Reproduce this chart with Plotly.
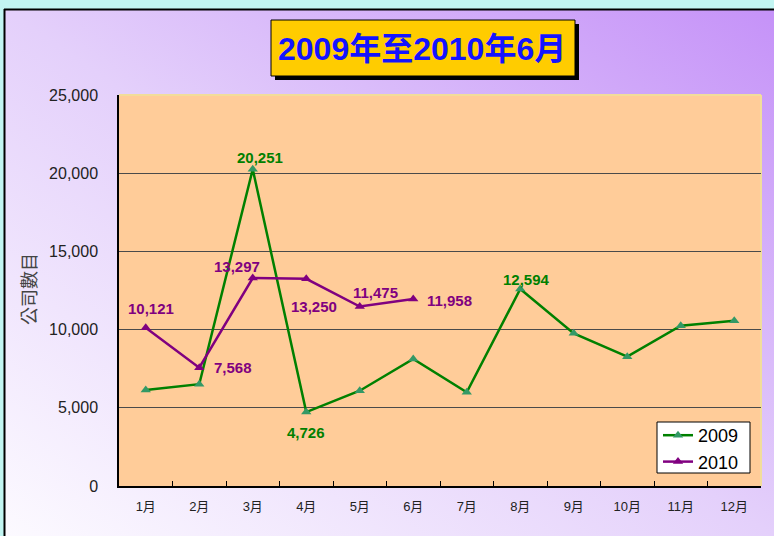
import base64
import plotly.graph_objects as go

# ---- data ----
months = ["1月", "2月", "3月", "4月", "5月", "6月", "7月", "8月", "9月", "10月", "11月", "12月"]
values_2009 = [6140, 6510, 20251, 4726, 6090, 8120, 5990, 12594, 9760, 8270, 10250, 10570]
values_2010 = [10121, 7568, 13297, 13250, 11475, 11958]
labeled_2009 = [2, 3, 7]          # indices with data labels
labeled_2010 = [0, 1, 2, 3, 4, 5]
y_ticks = [0, 5000, 10000, 15000, 20000, 25000]
title_text = "2009年至2010年6月"
y_title = "公司數目"

# ---- style ----
W, H = 774, 536
L, R, T, B = 119, 761, 95, 486   # plot area in pixels


def xp(px):
    return (px - L) / (R - L)


def yp(py):
    return (B - py) / (B - T)


# label offsets (xshift, yshift) in px
off_2009 = {2: (7, 12), 3: (0, -20), 7: (6, 10)}
off_2010 = {0: (5, 19), 1: (34, 0), 2: (-16, 12), 3: (8, -28), 4: (16, 14), 5: (36, -2)}

GREEN = "#008000"
GREEN_MK = "#339966"
PURPLE = "#800080"
FONT = "Liberation Sans, Arial, Noto Sans CJK TC, sans-serif"

svg = f'''<svg xmlns="http://www.w3.org/2000/svg" width="{W}" height="{H}" viewBox="0 0 {W} {H}" preserveAspectRatio="none">
<defs><linearGradient id="g" x1="0" y1="1" x2="1" y2="0">
<stop offset="0" stop-color="#fcfaff"/>
<stop offset="0.5" stop-color="#e4d0fb"/>
<stop offset="1" stop-color="#c592f8"/>
</linearGradient></defs>
<rect width="{W}" height="{H}" fill="#c2f5f2"/>
<rect x="4" y="9" width="{W-4}" height="{H-9}" fill="url(#g)"/>
<line x1="4.5" y1="9" x2="4.5" y2="{H}" stroke="#000" stroke-width="2"/>
<line x1="4" y1="9.5" x2="{W}" y2="9.5" stroke="#000" stroke-width="2"/>
</svg>'''
svg_uri = "data:image/svg+xml;base64," + base64.b64encode(svg.encode()).decode()

fig = go.Figure()
fig.add_trace(go.Scatter(
    x=months, y=values_2009, name="2009", mode="lines+markers",
    line=dict(color=GREEN, width=2.5),
    marker=dict(symbol="triangle-up", size=9, color=GREEN_MK),
))
fig.add_trace(go.Scatter(
    x=months[:len(values_2010)], y=values_2010, name="2010", mode="lines+markers",
    line=dict(color=PURPLE, width=2.5),
    marker=dict(symbol="triangle-up", size=9, color=PURPLE),
))

annotations = []
for i in labeled_2009:
    dx, dy = off_2009[i]
    annotations.append(dict(x=months[i], y=values_2009[i], text=f"{values_2009[i]:,}",
                            showarrow=False, xshift=dx, yshift=dy,
                            font=dict(family=FONT, size=15, color=GREEN, weight="bold")))
for i in labeled_2010:
    dx, dy = off_2010[i]
    annotations.append(dict(x=months[i], y=values_2010[i], text=f"{values_2010[i]:,}",
                            showarrow=False, xshift=dx, yshift=dy,
                            font=dict(family=FONT, size=15, color=PURPLE, weight="bold")))

# title
annotations.append(dict(xref="paper", yref="paper", x=xp(422), y=yp(48.5), text=title_text,
                        showarrow=False, xanchor="center", yanchor="middle",
                        font=dict(family=FONT, size=32, color="#1414ff", weight="bold")))
# y axis title
annotations.append(dict(xref="paper", yref="paper", x=xp(28), y=yp(289), text=y_title,
                        showarrow=False, textangle=-90, xanchor="center", yanchor="middle",
                        font=dict(family="Noto Sans CJK TC, sans-serif", size=18, color="#444444")))

shapes = [
    dict(type="rect", xref="paper", yref="paper", x0=0, x1=1, y0=0, y1=1,
         fillcolor="#ffcc99", line=dict(width=0), layer="below"),
    dict(type="rect", xref="paper", yref="paper", x0=xp(275), x1=xp(579), y0=yp(80), y1=yp(24),
         fillcolor="#000000", line=dict(width=0), layer="above"),
    dict(type="rect", xref="paper", yref="paper", x0=xp(271), x1=xp(575), y0=yp(76), y1=yp(20),
         fillcolor="#ffcc00", line=dict(color="#000000", width=1), layer="above"),
    dict(type="line", xref="paper", yref="paper", x0=0, x1=1, y0=1, y1=1,
         line=dict(color="#f2dd9a", width=2), layer="below"),
    dict(type="line", xref="paper", yref="paper", x0=1, x1=1, y0=0, y1=1,
         line=dict(color="#f2dd9a", width=2), layer="below"),
    # legend box
    dict(type="rect", xref="paper", yref="paper", x0=xp(657), x1=xp(750), y0=yp(473), y1=yp(422),
         fillcolor="#ffffff", line=dict(color="#000000", width=1), layer="above"),
]

fig.update_layout(
    width=W, height=H,
    margin=dict(l=L, r=W - R, t=T, b=H - B, pad=0),
    paper_bgcolor="#c2f5f2",
    plot_bgcolor="#ffcc99",
    images=[dict(source=svg_uri, xref="paper", yref="paper", x=xp(0), y=yp(0),
                 sizex=W / (R - L), sizey=H / (B - T), xanchor="left", yanchor="top",
                 sizing="stretch", layer="below")],
    shapes=shapes,
    annotations=annotations,
    showlegend=True,
    legend=dict(x=xp(658), y=yp(417), xanchor="left", yanchor="top",
                bgcolor="rgba(0,0,0,0)", borderwidth=0,
                font=dict(family=FONT, size=18, color="#000000"),
                tracegroupgap=0, itemwidth=30),
    font=dict(family=FONT),
)

fig.update_xaxes(
    type="category", categoryorder="array", categoryarray=months,
    range=[-0.5, len(months) - 0.5],
    tickson="boundaries", ticks="inside", ticklen=5, tickcolor="#000000",
    showline=True, linecolor="#000000", linewidth=1.5,
    showgrid=False, zeroline=False,
    tickfont=dict(family=FONT, size=13, color="#222222"),
    ticklabelstandoff=8,
)
fig.update_yaxes(
    range=[0, 25000], tickvals=y_ticks, tickformat=",",
    showline=True, linecolor="#000000", linewidth=1.5,
    showgrid=True, gridcolor="#4a4a4a", gridwidth=1, zeroline=False,
    ticks="", tickfont=dict(family=FONT, size=16, color="#222222"),
    ticklabelstandoff=16,
)

fig.write_html("out.html", config={"displayModeBar": False},
               post_script="document.body.style.margin='0';document.body.style.overflow='hidden';")
